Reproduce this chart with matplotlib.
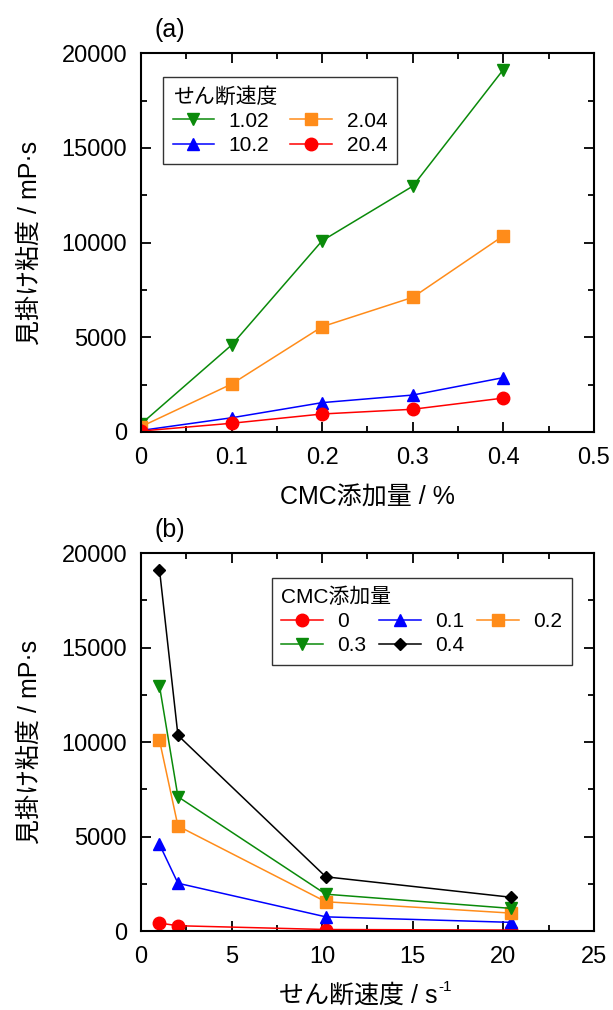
import numpy as np
import matplotlib
import matplotlib.pyplot as plt
from matplotlib.ticker import MultipleLocator, FuncFormatter

# 日本語と数字のフォント
matplotlib.rcParams['font.family'] = ['Liberation Sans', 'Noto Sans CJK JP']
matplotlib.rcParams['axes.unicode_minus'] = False

# データ
cmc = [0, 0.1, 0.2, 0.3, 0.4]          # CMC添加量 / %
shear = [1.02, 2.04, 10.2, 20.4]       # せん断速度 / s-1

# 各せん断速度での粘度 (CMC添加量順)
visc_102 = [420, 4590, 10100, 12980, 19140]
visc_204 = [280, 2530, 5560, 7110, 10360]
visc_1020 = [80, 750, 1550, 1950, 2870]
visc_2040 = [50, 460, 950, 1200, 1790]

shear_labels = ['1.02', '2.04', '10.2', '20.4']
shear_colors = ['#0a8a0a', '#ff8c1a', '#0000ff', '#ff0000']
shear_markers = ['v', 's', '^', 'o']

cmc_labels = ['0', '0.1', '0.2', '0.3', '0.4']
cmc_colors = ['#ff0000', '#0000ff', '#ff8c1a', '#0a8a0a', '#000000']
cmc_markers = ['o', '^', 's', 'v', 'D']

MS = {'o': 9, 's': 9, '^': 8.5, 'v': 8.5, 'D': 6.5}
TICK_FS = 17
LABEL_FS = 18
LEG_FS = 15


def style_axes(ax):
    ax.tick_params(which='both', direction='in', top=True, right=True,
                   labelsize=TICK_FS)
    ax.tick_params(axis='x', pad=11)
    ax.tick_params(axis='y', pad=10)
    ax.tick_params(which='major', length=7, width=1.3)
    ax.tick_params(which='minor', length=4, width=1.3)
    ax.yaxis.set_major_locator(MultipleLocator(5000))
    ax.yaxis.set_minor_locator(MultipleLocator(2500))
    ax.set_ylim(0, 20000)
    for sp in ax.spines.values():
        sp.set_linewidth(1.5)


fig = plt.figure(figsize=(6.13, 10.10), dpi=100)

# (a) 粘度 vs CMC添加量
ax1 = fig.add_axes([0.230, 0.5723, 0.739, 0.375])
all_visc = [visc_102, visc_204, visc_1020, visc_2040]
h1 = []
for vals, lab, col, mk in zip(all_visc, shear_labels, shear_colors, shear_markers):
    ln, = ax1.plot(cmc, vals, color=col, marker=mk, ms=MS[mk], lw=1.1, label=lab)
    h1.append(ln)
ax1.set_xlim(0, 0.5)
ax1.xaxis.set_major_locator(MultipleLocator(0.1))
ax1.xaxis.set_minor_locator(MultipleLocator(0.05))
ax1.xaxis.set_major_formatter(FuncFormatter(lambda v, p: '0' if abs(v) < 1e-9 else f'{v:.1f}'))
style_axes(ax1)
ax1.set_xlabel('CMC添加量 / %', fontsize=LABEL_FS, labelpad=12)
ax1.set_ylabel('見掛け粘度 / mP·s', fontsize=LABEL_FS, labelpad=14)
ax1.text(0.03, 1.03, '(a)', transform=ax1.transAxes, fontsize=LABEL_FS, va='bottom')
idx1 = [0, 2, 1, 3]
leg1 = ax1.legend([h1[i] for i in idx1], [shear_labels[i] for i in idx1], ncol=2,
                  title='せん断速度', loc='upper left', bbox_to_anchor=(0.049, 0.937),
                  borderaxespad=0, fontsize=LEG_FS, title_fontsize=LEG_FS,
                  alignment='left', fancybox=False, edgecolor='#333333',
                  framealpha=1, handlelength=2.0, columnspacing=1.0,
                  handletextpad=0.7, borderpad=0.45, labelspacing=0.25)
leg1.get_frame().set_linewidth(1.0)

# (b) 粘度 vs せん断速度
ax2 = fig.add_axes([0.230, 0.0782, 0.739, 0.374])
visc_arr = np.array(all_visc)
h2 = []
for i, lab in enumerate(cmc_labels):
    mk = cmc_markers[i]
    ln, = ax2.plot(shear, visc_arr[:, i], color=cmc_colors[i], marker=mk, ms=MS[mk],
                   lw=1.1, label=lab)
    h2.append(ln)
ax2.set_xlim(0, 25)
ax2.xaxis.set_major_locator(MultipleLocator(5))
ax2.xaxis.set_minor_locator(MultipleLocator(2.5))
style_axes(ax2)
xl = ax2.set_xlabel('せん断速度 / s', fontsize=LABEL_FS, labelpad=11)
ax2.set_ylabel('見掛け粘度 / mP·s', fontsize=LABEL_FS, labelpad=14)
ax2.text(0.03, 1.03, '(b)', transform=ax2.transAxes, fontsize=LABEL_FS, va='bottom')
idx2 = [0, 3, 1, 4, 2]
leg2 = ax2.legend([h2[i] for i in idx2], [cmc_labels[i] for i in idx2], ncol=3,
                  title='CMC添加量', loc='upper left', bbox_to_anchor=(0.289, 0.934),
                  borderaxespad=0, fontsize=LEG_FS, title_fontsize=LEG_FS,
                  alignment='left', fancybox=False, edgecolor='#333333',
                  framealpha=1, handlelength=2.0, columnspacing=0.6,
                  handletextpad=0.7, borderpad=0.45, labelspacing=0.25)
leg2.get_frame().set_linewidth(1.0)

# 上付き "-1" を x ラベルの右に配置
xl.set_x(0.48)
fig.canvas.draw()
bb = xl.get_window_extent(fig.canvas.get_renderer())
x0, y0 = fig.transFigure.inverted().transform((bb.x1, bb.y0 + bb.height * 0.55))
fig.text(x0 + 0.001, y0, '-1', fontsize=11, ha='left', va='bottom')

fig.savefig('out.png', dpi=100)
